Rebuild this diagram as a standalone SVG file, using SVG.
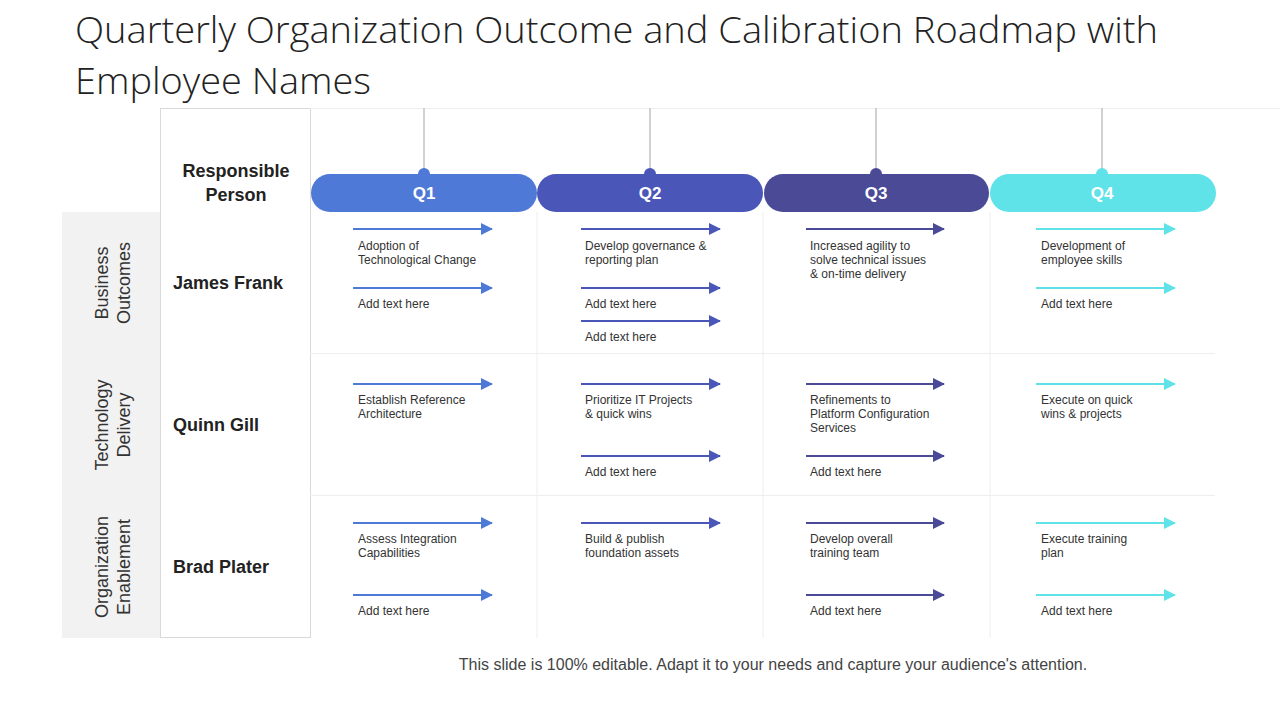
<svg xmlns="http://www.w3.org/2000/svg" width="1280" height="720" viewBox="0 0 1280 720">
<style>
.t{font-family:"Liberation Sans",Arial,sans-serif;font-size:12px;fill:#333}
.n{font-family:"Liberation Sans",Arial,sans-serif;font-size:18px;font-weight:bold;fill:#222}
.v{font-family:"Liberation Sans",Arial,sans-serif;font-size:18px;fill:#333;text-anchor:middle}
.q{font-family:"Liberation Sans",Arial,sans-serif;font-size:17px;font-weight:bold;fill:#fff;text-anchor:middle}
.g{stroke:#eeeeee;stroke-width:1}
.a1{stroke:#4F79D7;stroke-width:2}.a2{stroke:#4A57B9;stroke-width:2}.a3{stroke:#4A4A96;stroke-width:2}.a4{stroke:#5FE3E8;stroke-width:2}
</style>
<defs>
<marker id="m1" markerWidth="12" markerHeight="12" refX="11" refY="6" orient="auto" markerUnits="userSpaceOnUse" viewBox="0 0 12 12"><path d="M0,0 L12,6 L0,12z" fill="#4F79D7"/></marker>
<marker id="m2" markerWidth="12" markerHeight="12" refX="11" refY="6" orient="auto" markerUnits="userSpaceOnUse" viewBox="0 0 12 12"><path d="M0,0 L12,6 L0,12z" fill="#4A57B9"/></marker>
<marker id="m3" markerWidth="12" markerHeight="12" refX="11" refY="6" orient="auto" markerUnits="userSpaceOnUse" viewBox="0 0 12 12"><path d="M0,0 L12,6 L0,12z" fill="#4A4A96"/></marker>
<marker id="m4" markerWidth="12" markerHeight="12" refX="11" refY="6" orient="auto" markerUnits="userSpaceOnUse" viewBox="0 0 12 12"><path d="M0,0 L12,6 L0,12z" fill="#5FE3E8"/></marker>
</defs>
<rect width="1280" height="720" fill="#fff"/>
<text font-family="Open Sans,Liberation Sans,Arial,sans-serif" font-weight="300" font-size="36" fill="#222"><tspan x="75" y="43" textLength="1083" lengthAdjust="spacingAndGlyphs">Quarterly Organization Outcome and Calibration Roadmap with</tspan><tspan x="75" y="94" textLength="296" lengthAdjust="spacingAndGlyphs">Employee Names</tspan></text>
<g id="grid">
<rect x="62" y="212" width="98" height="426" fill="#f2f2f2"/>
<rect x="160.5" y="108.5" width="150" height="529" fill="#fff" stroke="#d9d9d9"/>
<line x1="310" y1="108.5" x2="1280" y2="108.5" class="g"/>
<line x1="310" y1="353.5" x2="1215" y2="353.5" class="g"/>
<line x1="310" y1="495.5" x2="1215" y2="495.5" class="g"/>
<line x1="537" y1="212" x2="537" y2="638" class="g"/>
<line x1="763" y1="212" x2="763" y2="638" class="g"/>
<line x1="990" y1="212" x2="990" y2="638" class="g"/>
</g>
<g id="labels">
<text class="n" text-anchor="middle"><tspan x="236" y="177">Responsible</tspan><tspan x="236" y="201">Person</tspan></text>
<text class="n" x="173" y="289">James Frank</text>
<text class="n" x="173" y="431">Quinn Gill</text>
<text class="n" x="173" y="573">Brad Plater</text>
<text class="v" transform="translate(108,283) rotate(-90)"><tspan x="0" y="0">Business</tspan><tspan x="0" y="22">Outcomes</tspan></text>
<text class="v" transform="translate(108,425) rotate(-90)"><tspan x="0" y="0">Technology</tspan><tspan x="0" y="22">Delivery</tspan></text>
<text class="v" transform="translate(108,567) rotate(-90)"><tspan x="0" y="0">Organization</tspan><tspan x="0" y="22">Enablement</tspan></text>
</g>
<g id="quarters">
<g id="q1"><line x1="424" y1="108" x2="424" y2="172" stroke="#d0d0d0" stroke-width="2"/><circle cx="424" cy="174" r="6" fill="#4F79D7"/><rect x="311" y="174" width="226" height="38" rx="19" fill="#4F79D7"/><text class="q" x="424" y="199">Q1</text></g>
<g id="q2"><line x1="650" y1="108" x2="650" y2="172" stroke="#d0d0d0" stroke-width="2"/><circle cx="650" cy="174" r="6" fill="#4A57B9"/><rect x="537" y="174" width="226" height="38" rx="19" fill="#4A57B9"/><text class="q" x="650" y="199">Q2</text></g>
<g id="q3"><line x1="876" y1="108" x2="876" y2="172" stroke="#d0d0d0" stroke-width="2"/><circle cx="876" cy="174" r="6" fill="#4A4A96"/><rect x="764" y="174" width="225" height="38" rx="19" fill="#4A4A96"/><text class="q" x="876" y="199">Q3</text></g>
<g id="q4"><line x1="1102" y1="108" x2="1102" y2="172" stroke="#d0d0d0" stroke-width="2"/><circle cx="1102" cy="174" r="6" fill="#5FE3E8"/><rect x="990" y="174" width="226" height="38" rx="19" fill="#5FE3E8"/><text class="q" x="1102" y="199">Q4</text></g>
</g>
<g id="connectors">
<line class="a1" x1="353" y1="229" x2="492" y2="229" marker-end="url(#m1)"/>
<line class="a1" x1="353" y1="288" x2="492" y2="288" marker-end="url(#m1)"/>
<line class="a1" x1="353" y1="384" x2="492" y2="384" marker-end="url(#m1)"/>
<line class="a1" x1="353" y1="523" x2="492" y2="523" marker-end="url(#m1)"/>
<line class="a1" x1="353" y1="595" x2="492" y2="595" marker-end="url(#m1)"/>
<line class="a2" x1="581" y1="229" x2="720" y2="229" marker-end="url(#m2)"/>
<line class="a2" x1="581" y1="288" x2="720" y2="288" marker-end="url(#m2)"/>
<line class="a2" x1="581" y1="321" x2="720" y2="321" marker-end="url(#m2)"/>
<line class="a2" x1="581" y1="384" x2="720" y2="384" marker-end="url(#m2)"/>
<line class="a2" x1="581" y1="456" x2="720" y2="456" marker-end="url(#m2)"/>
<line class="a2" x1="581" y1="523" x2="720" y2="523" marker-end="url(#m2)"/>
<line class="a3" x1="806" y1="229" x2="944" y2="229" marker-end="url(#m3)"/>
<line class="a3" x1="806" y1="384" x2="944" y2="384" marker-end="url(#m3)"/>
<line class="a3" x1="806" y1="456" x2="944" y2="456" marker-end="url(#m3)"/>
<line class="a3" x1="806" y1="523" x2="944" y2="523" marker-end="url(#m3)"/>
<line class="a3" x1="806" y1="595" x2="944" y2="595" marker-end="url(#m3)"/>
<line class="a4" x1="1036" y1="229" x2="1175" y2="229" marker-end="url(#m4)"/>
<line class="a4" x1="1036" y1="288" x2="1175" y2="288" marker-end="url(#m4)"/>
<line class="a4" x1="1036" y1="384" x2="1175" y2="384" marker-end="url(#m4)"/>
<line class="a4" x1="1036" y1="523" x2="1175" y2="523" marker-end="url(#m4)"/>
<line class="a4" x1="1036" y1="595" x2="1175" y2="595" marker-end="url(#m4)"/>
</g>
<g id="texts">
<text class="t"><tspan x="358" y="250">Adoption of</tspan><tspan x="358" y="264">Technological Change</tspan></text>
<text class="t" x="358" y="308">Add text here</text>
<text class="t"><tspan x="358" y="404">Establish Reference</tspan><tspan x="358" y="418">Architecture</tspan></text>
<text class="t"><tspan x="358" y="543">Assess Integration</tspan><tspan x="358" y="557">Capabilities</tspan></text>
<text class="t" x="358" y="615">Add text here</text>
<text class="t"><tspan x="585" y="250">Develop governance &amp;</tspan><tspan x="585" y="264">reporting plan</tspan></text>
<text class="t" x="585" y="308">Add text here</text>
<text class="t" x="585" y="341">Add text here</text>
<text class="t"><tspan x="585" y="404">Prioritize IT Projects</tspan><tspan x="585" y="418">&amp; quick wins</tspan></text>
<text class="t" x="585" y="476">Add text here</text>
<text class="t"><tspan x="585" y="543">Build &amp; publish</tspan><tspan x="585" y="557">foundation assets</tspan></text>
<text class="t"><tspan x="810" y="250">Increased agility to</tspan><tspan x="810" y="264">solve technical issues</tspan><tspan x="810" y="278">&amp; on-time delivery</tspan></text>
<text class="t"><tspan x="810" y="404">Refinements to</tspan><tspan x="810" y="418">Platform Configuration</tspan><tspan x="810" y="432">Services</tspan></text>
<text class="t" x="810" y="476">Add text here</text>
<text class="t"><tspan x="810" y="543">Develop overall</tspan><tspan x="810" y="557">training team</tspan></text>
<text class="t" x="810" y="615">Add text here</text>
<text class="t"><tspan x="1041" y="250">Development of</tspan><tspan x="1041" y="264">employee skills</tspan></text>
<text class="t" x="1041" y="308">Add text here</text>
<text class="t"><tspan x="1041" y="404">Execute on quick</tspan><tspan x="1041" y="418">wins &amp; projects</tspan></text>
<text class="t"><tspan x="1041" y="543">Execute training</tspan><tspan x="1041" y="557">plan</tspan></text>
<text class="t" x="1041" y="615">Add text here</text>
</g>
<text font-family="Liberation Sans,Arial,sans-serif" font-size="16" fill="#444" x="773" y="670" text-anchor="middle">This slide is 100% editable. Adapt it to your needs and capture your audience's attention.</text>
</svg>
